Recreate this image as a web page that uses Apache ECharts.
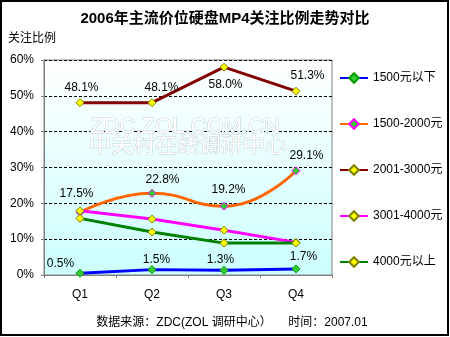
<!DOCTYPE html>
<html><head><meta charset="utf-8">
<script src="https://cdn.jsdelivr.net/npm/echarts@6/dist/echarts.min.js"></script>
<style>html,body{margin:0;padding:0;background:#fff}#c{width:450px;height:337px}</style>
</head><body><div id="c"></div>
<script>
var categories = ['Q1','Q2','Q3','Q4'];
var seriesNames = ['1500元以下','1500-2000元','2001-3000元','3001-4000元','4000元以上'];
var v1500below = [0.5, 1.5, 1.3, 1.7];
var v1500_2000 = [17.5, 22.8, 19.2, 29.1];
var v2001_3000 = [48.1, 48.1, 58.0, 51.3];
var v3001_4000 = [17.9, 15.6, 12.5, 9.1];
var v4000above = [15.8, 12.0, 8.9, 8.9];
var yTicks = [0, 10, 20, 30, 40, 50, 60];

// label offsets relative to the point (style, not data)
var offBlue = [[-19,-9],[5,-9],[-3,-10],[8,-12]];
var offOrange = [[-3,-18],[11,-13],[5,-16],[11,-15]];
var offRed = [[2,-14],[10,-14],[2,18],[12,-15]];

var FONT = '"Liberation Sans","Noto Sans CJK SC",Arial,sans-serif';
var SYM = 8;
function withLabels(vals, offs){
  return vals.map(function(v,i){
    return {value: v, label: {show: true, position: [SYM/2 + offs[i][0], SYM/2 + offs[i][1]], align: 'center', verticalAlign: 'middle',
      formatter: function(p){return p.value.toFixed(1)+'%';}}};
  });
}
function mk(name, vals, color, mfill, mborder, offs, smooth){
  return {
    name: name, type: 'line', smooth: smooth ? 0.5 : false,
    data: offs ? withLabels(vals, offs) : vals,
    symbol: 'diamond', symbolSize: SYM,
    lineStyle: {color: color, width: 3},
    itemStyle: {color: mfill, borderColor: mborder, borderWidth: 1},
    label: {show: false, color: '#000', fontSize: 12, fontFamily: FONT},
    labelLayout: {hideOverlap: false},
    z: 3
  };
}
var chart = echarts.init(document.getElementById('c'), null, {renderer: 'canvas'});
chart.setOption({
  animation: false,
  backgroundColor: '#fff',
  textStyle: {fontFamily: FONT},
  grid: {left: 44, right: 118, top: 60, bottom: 62, show: true,
    backgroundColor: new echarts.graphic.LinearGradient(0,0,0,1,[{offset:0,color:'#ffffff'},{offset:1,color:'#ccffff'}]),
    borderColor: '#808080', borderWidth: 1},
  xAxis: {type: 'category', data: categories, boundaryGap: true,
    axisLine: {lineStyle: {color: '#808080'}},
    axisTick: {show: true, length: 3, lineStyle: {color: '#808080'}},
    axisLabel: {color: '#000', fontSize: 12, fontFamily: FONT, margin: 14}},
  yAxis: {type: 'value', min: yTicks[0], max: yTicks[yTicks.length-1], interval: 10,
    axisLine: {show: true, lineStyle: {color: '#808080'}},
    axisTick: {show: true, length: 3, lineStyle: {color: '#808080'}},
    axisLabel: {color: '#000', fontSize: 12, fontFamily: FONT, margin: 10, formatter: '{value}%'},
    splitLine: {show: true, lineStyle: {color: '#000', type: [3,2], width: 1}}},
  legend: {orient: 'vertical', left: 334, top: 67, itemWidth: 28, itemHeight: 12, itemGap: 34,
    textStyle: {color: '#000', fontSize: 12, fontFamily: FONT}, data: seriesNames},
  graphic: [
    {type: 'rect', shape: {x: 1, y: 1, width: 447, height: 334}, style: {fill: 'none', stroke: '#000', lineWidth: 2}, z: 10},
    {type: 'text', left: 'center', top: 11, style: {text: '2006年主流价位硬盘MP4关注比例走势对比', font: 'bold 15px ' + FONT, fill: '#000'}},
    {type: 'text', left: 8, top: 33, style: {text: '关注比例', font: '12px ' + FONT, fill: '#000'}},
    {type: 'text', x: 185, y: 127, style: {text: 'ZDC.ZOL.COM.CN', font: '22px ' + FONT, fill: '#ffffff', stroke: '#c4d0d0', lineWidth: 1, align: 'center', verticalAlign: 'middle'}, z: 1},
    {type: 'text', x: 188, y: 146, style: {text: '中关村在线调研中心', font: '22px ' + FONT, fill: '#ffffff', stroke: '#c4d0d0', lineWidth: 1, align: 'center', verticalAlign: 'middle'}, z: 1},
    {type: 'text', x: 232, y: 323, style: {text: '数据来源：ZDC(ZOL 调研中心）     时间：2007.01', font: '12px ' + FONT, fill: '#000', align: 'center', verticalAlign: 'middle'}}
  ],
  series: [
    mk(seriesNames[0], v1500below, '#0000ff', '#33cc33', '#009900', offBlue, false),
    mk(seriesNames[1], v1500_2000, '#ff6600', '#33cc33', '#ff00ff', offOrange, true),
    mk(seriesNames[2], v2001_3000, '#800000', '#ffff00', '#808000', offRed, false),
    mk(seriesNames[3], v3001_4000, '#ff00ff', '#ffff00', '#808000', null, false),
    mk(seriesNames[4], v4000above, '#008000', '#ffff00', '#808000', null, false)
  ]
});
</script></body></html>
